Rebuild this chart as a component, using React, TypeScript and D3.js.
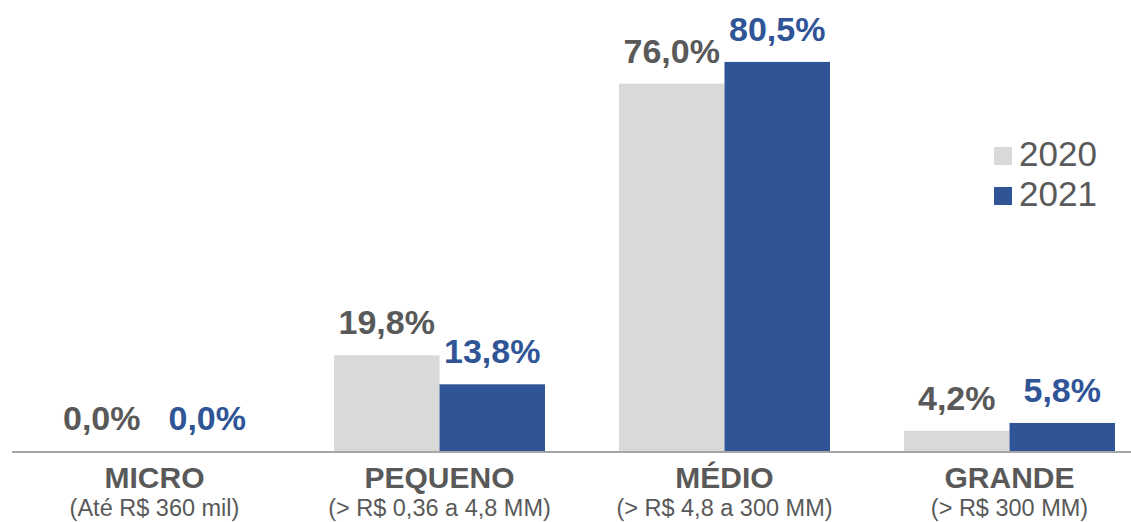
import * as d3 from "d3";
import React from "react";

const categories = ["MICRO", "PEQUENO", "MÉDIO", "GRANDE"];
const subtitles = ["(Até R$ 360 mil)", "(> R$ 0,36 a 4,8 MM)", "(> R$ 4,8 a 300 MM)", "(> R$ 300 MM)"];
const years = ["2020", "2021"];
const values2020 = [0.0, 19.8, 76.0, 4.2];
const values2021 = [0.0, 13.8, 80.5, 5.8];

const colors = { "2020": "#d9d9d9", "2021": "#2f5597" };
const labelColors = { "2020": "#595959", "2021": "#2f5597" };
const textGrey = "#595959";
const font = "Arial, 'Liberation Sans', sans-serif";

const width = 1131;
const height = 522;
const baseline = 451;

const fmt = (v: number) => v.toFixed(1).replace(".", ",") + "%";

export default function App() {
  const x0 = d3.scaleBand().domain(categories).range([12, 1152]).padding(0);
  const x1 = d3.scaleBand().domain(years).range([37, x0.bandwidth() - 37]).padding(0);
  const y = d3.scaleLinear().domain([0, 90]).range([baseline, 16]);

  const series = years.map((yr) => ({
    key: yr,
    values: yr === "2020" ? values2020 : values2021,
  }));

  return (
    <svg
      width={width}
      height={height}
      style={{ position: "absolute", left: 0, top: 0, background: "#fff" }}
      fontFamily={font}
    >
      {series.map((s) => (
        <g key={s.key}>
          {categories.map((c, i) => {
            const bx = (x0(c) ?? 0) + (x1(s.key) ?? 0);
            const v = s.values[i];
            return (
              <g key={c}>
                <rect
                  x={bx}
                  y={y(v)}
                  width={x1.bandwidth()}
                  height={baseline - y(v)}
                  fill={colors[s.key]}
                />
                <text
                  x={bx + x1.bandwidth() / 2}
                  y={y(v) - 21}
                  textAnchor="middle"
                  fontSize={34}
                  fontWeight="bold"
                  fill={labelColors[s.key]}
                >
                  {fmt(v)}
                </text>
              </g>
            );
          })}
        </g>
      ))}

      <line x1={12} x2={width} y1={baseline + 1} y2={baseline + 1} stroke="#898989" strokeWidth={1.5} />

      {categories.map((c, i) => {
        const cx = (x0(c) ?? 0) + x0.bandwidth() / 2;
        return (
          <g key={c}>
            <text x={cx} y={488} textAnchor="middle" fontSize={30} fontWeight="bold" fill={textGrey}>
              {c}
            </text>
            <text x={cx} y={516} textAnchor="middle" fontSize={23.5} fill={textGrey}>
              {subtitles[i]}
            </text>
          </g>
        );
      })}

      {years.map((yr, i) => (
        <g key={yr} transform={`translate(994, ${147 + i * 40})`}>
          <rect width={18} height={18} fill={colors[yr]} />
          <text x={25} y={19} fontSize={35} fill={textGrey}>
            {yr}
          </text>
        </g>
      ))}
    </svg>
  );
}
